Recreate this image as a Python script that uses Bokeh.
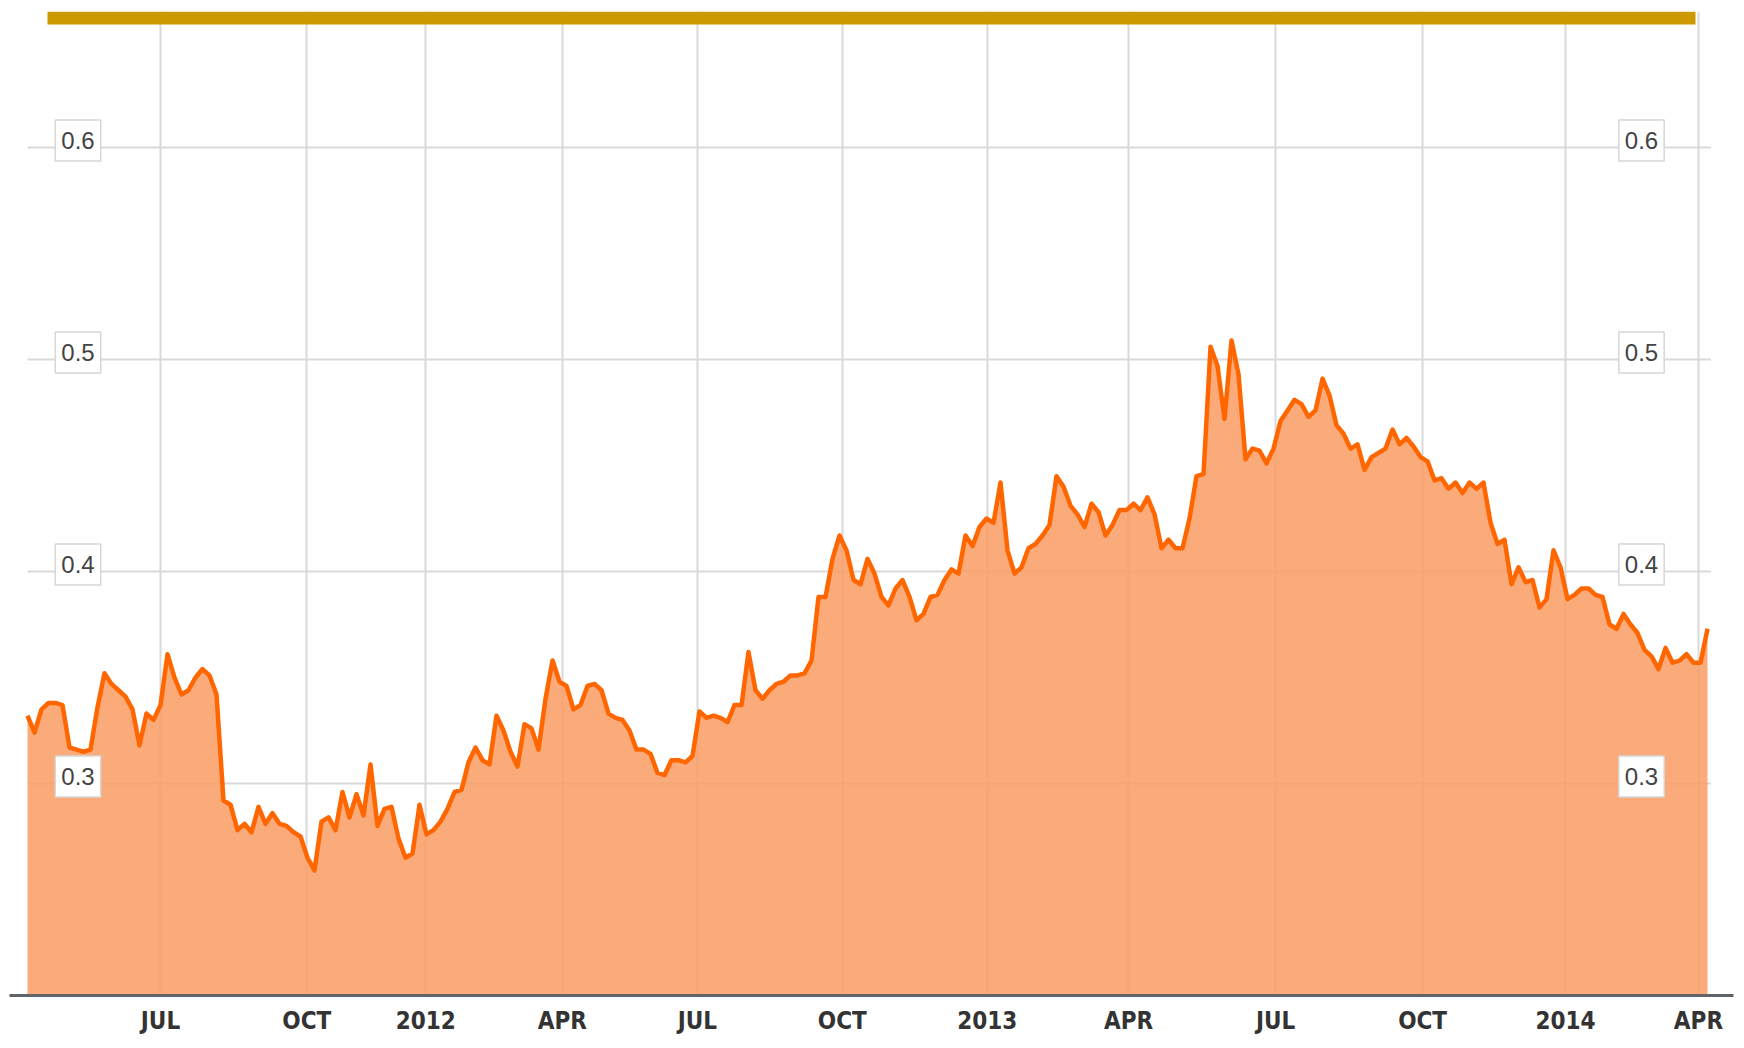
from bokeh.plotting import figure
from bokeh.models import FixedTicker, Range1d, Label, BoxAnnotation
from bokeh.embed import file_html
from bokeh.resources import INLINE

# Weekly samples of the series (trading-week index)
values = [
    0.332, 0.324, 0.335, 0.338, 0.338, 0.337, 0.317, 0.316, 0.315, 0.316,
    0.336, 0.352, 0.347, 0.344, 0.341, 0.335, 0.318, 0.333, 0.330, 0.337,
    0.361, 0.350, 0.342, 0.344, 0.350, 0.354, 0.351, 0.342, 0.292, 0.290,
    0.278, 0.281, 0.277, 0.289, 0.281, 0.286, 0.281, 0.280, 0.277, 0.275,
    0.265, 0.259, 0.282, 0.284, 0.278, 0.296, 0.284, 0.295, 0.285, 0.309,
    0.280, 0.288, 0.289, 0.274, 0.265, 0.267, 0.290, 0.276, 0.278, 0.282,
    0.288, 0.296, 0.297, 0.310, 0.317, 0.311, 0.309, 0.332, 0.325, 0.315,
    0.308, 0.328, 0.326, 0.316, 0.340, 0.358, 0.348, 0.346, 0.335, 0.337,
    0.346, 0.347, 0.344, 0.333, 0.331, 0.330, 0.325, 0.316, 0.316, 0.314,
    0.305, 0.304, 0.311, 0.311, 0.310, 0.313, 0.334, 0.331, 0.332, 0.331,
    0.329, 0.337, 0.337, 0.362, 0.344, 0.340, 0.344, 0.347, 0.348, 0.351,
    0.351, 0.352, 0.358, 0.388, 0.388, 0.406, 0.417, 0.410, 0.396, 0.394,
    0.406, 0.399, 0.388, 0.384, 0.392, 0.396, 0.388, 0.377, 0.380, 0.388,
    0.389, 0.396, 0.401, 0.399, 0.417, 0.412, 0.421, 0.425, 0.423, 0.442,
    0.410, 0.399, 0.402, 0.411, 0.413, 0.417, 0.422, 0.445, 0.440, 0.431,
    0.427, 0.421, 0.432, 0.428, 0.417, 0.422, 0.429, 0.429, 0.432, 0.429,
    0.435, 0.427, 0.411, 0.415, 0.411, 0.411, 0.425, 0.445, 0.446, 0.506,
    0.497, 0.472, 0.509, 0.493, 0.453, 0.458, 0.457, 0.451, 0.458, 0.471,
    0.476, 0.481, 0.479, 0.473, 0.476, 0.491, 0.483, 0.469, 0.465, 0.458,
    0.460, 0.448, 0.454, 0.456, 0.458, 0.467, 0.460, 0.463, 0.459, 0.454,
    0.452, 0.443, 0.444, 0.439, 0.442, 0.437, 0.442, 0.439, 0.442, 0.423,
    0.413, 0.415, 0.394, 0.402, 0.395, 0.396, 0.383, 0.387, 0.410, 0.402,
    0.387, 0.389, 0.392, 0.392, 0.389, 0.388, 0.375, 0.373, 0.380, 0.375,
    0.371, 0.363, 0.360, 0.354, 0.364, 0.357, 0.358, 0.361, 0.357, 0.357,
    0.373,
]
week = list(range(len(values)))

# Month boundaries on the trading-week axis and their labels
month_tick_pos = [19.0, 39.9, 56.9, 76.4, 95.7, 116.4, 137.1, 157.3, 178.3, 199.3, 219.7, 238.7]
month_tick_labels = ["JUL", "OCT", "2012", "APR", "JUL", "OCT", "2013", "APR", "JUL", "OCT", "2014", "APR"]

y_ticks = [0.3, 0.4, 0.5, 0.6]
y_tick_labels = ["0.3", "0.4", "0.5", "0.6"]

p = figure(
    width=1744, height=1048,
    output_backend="svg", toolbar_location=None,
    x_range=Range1d(-2.571, 243.71), y_range=Range1d(0.2, 0.6642),
    y_axis_location=None,
    min_border_left=9, min_border_right=11, min_border_top=11, min_border_bottom=53,
)
p.outline_line_color = None
p.background_fill_color = "white"
p.border_fill_color = "white"

# vertical grid (months)
p.xgrid.ticker = FixedTicker(ticks=month_tick_pos)
p.xgrid.grid_line_color = "#d9d9d9"
p.xgrid.grid_line_width = 2
# horizontal grid lines only across the data span
p.ygrid.visible = False
n = len(y_ticks)
p.segment(x0=[week[0]] * n, x1=[week[-1] + 0.5] * n, y0=y_ticks, y1=y_ticks,
          line_color="#d9d9d9", line_width=2, level="underlay")

# area + line
p.varea(x=week, y1=0, y2=values, fill_color="#FA9C63", fill_alpha=0.85)
p.line(x=week, y=values, line_color="#FF6600", line_width=4.5, line_join="round")

# x axis
ax = p.xaxis[0]
ax.ticker = FixedTicker(ticks=month_tick_pos)
ax.major_label_overrides = {t: l for t, l in zip(month_tick_pos, month_tick_labels)}
ax.major_tick_in = 0
ax.major_tick_out = 0
ax.minor_tick_in = 0
ax.minor_tick_out = 0
ax.axis_line_color = "#5f646a"
ax.axis_line_width = 3
ax.major_label_standoff = 11
ax.major_label_text_font = "DejaVu Sans Condensed"
ax.major_label_text_font_style = "bold"
ax.major_label_text_font_size = "24px"
ax.major_label_text_color = "#333333"

# boxed y labels on both sides
for v, s in zip(y_ticks, y_tick_labels):
    for cx in (77.5, 1641):
        p.add_layout(Label(
            x=cx, x_units="canvas", y=v, y_units="data", y_offset=7,
            text=s, text_align="center", text_baseline="middle",
            text_font="Liberation Sans", text_font_size="24px", text_color="#444444",
            background_fill_color="white", border_line_color="#d6d6d6",
            border_line_width=1.5, padding=dict(left=6, right=6, top=12, bottom=12),
        ))

# gold bar at the top
p.add_layout(BoxAnnotation(
    left=47, right=1695, top=11, bottom=24,
    left_units="canvas", right_units="canvas", top_units="canvas", bottom_units="canvas",
    fill_color="#CC9900", fill_alpha=1.0, line_color=None,
))

open("out.html", "w").write(file_html(p, INLINE))
